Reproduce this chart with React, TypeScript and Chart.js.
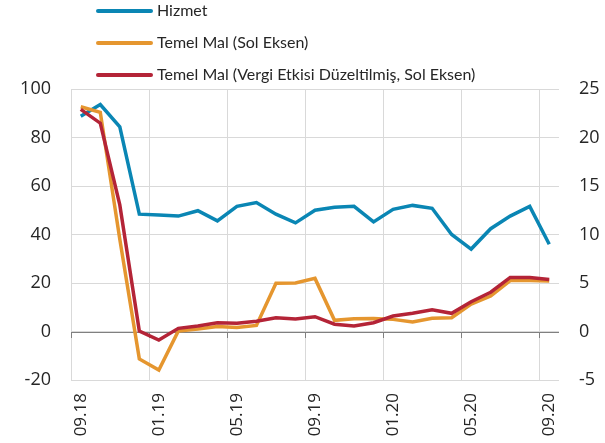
import React, { useEffect, useRef } from "react";
import { Chart, registerables } from "chart.js";

Chart.register(...registerables);

const categories = [
  "09.18", "10.18", "11.18", "12.18", "01.19", "02.19", "03.19", "04.19", "05.19",
  "06.19", "07.19", "08.19", "09.19", "10.19", "11.19", "12.19", "01.20", "02.20",
  "03.20", "04.20", "05.20", "06.20", "07.20", "08.20", "09.20",
];

// Right axis
const hizmet = [
  22.2, 23.4, 21.1, 12.1, 12.0, 11.9, 12.45, 11.4, 12.9, 13.3, 12.1, 11.2, 12.5,
  12.8, 12.9, 11.3, 12.6, 13.0, 12.7, 10.0, 8.5, 10.6, 11.9, 12.9, 9.0,
];

// Left axis
const temelMal = [
  92.7, 90.4, 38, -11.3, -15.9, 0.2, 1.0, 2.1, 1.7, 2.5, 19.9, 20.0, 21.9, 4.6,
  5.3, 5.4, 5.0, 3.9, 5.5, 5.7, 11.3, 14.6, 21.0, 21.0, 20.8,
];

const temelMalVergi = [
  91.6, 85.9, 52.2, 0.2, -3.5, 1.3, 2.3, 3.6, 3.4, 4.2, 5.7, 5.2, 6.1, 3.0, 2.3,
  3.6, 6.4, 7.5, 9.0, 7.5, 12.3, 16.2, 22.3, 22.3, 21.4,
];

const leftTicks = { min: -20, max: 100, step: 20 };
const rightTicks = { min: -5, max: 25, step: 5 };

const FONT = "'Open Sans', sans-serif";
const LEGEND_FONT = "Lato, sans-serif";
const TEXT = "#262626";

const zeroLinePlugin = {
  id: "zeroLine",
  beforeDatasetsDraw(chart: any) {
    const { ctx, chartArea } = chart;
    const y = chart.scales.y.getPixelForValue(0);
    const xs = chart.scales.x;
    const n = xs.ticks.length;
    const w = (chartArea.right - chartArea.left) / n;
    ctx.save();
    ctx.strokeStyle = "#808080";
    ctx.lineWidth = 1;
    ctx.beginPath();
    ctx.moveTo(chartArea.left, Math.round(y) + 0.5);
    ctx.lineTo(chartArea.right, Math.round(y) + 0.5);
    for (let i = 0; i < n; i += 4) {
      const x = Math.round(chartArea.left + i * w) + 0.5;
      ctx.moveTo(x, Math.round(y));
      ctx.lineTo(x, Math.round(y) + 6);
    }
    ctx.stroke();
    ctx.restore();
  },
};

const legendPlugin = {
  id: "customLegend",
  afterDraw(chart: any) {
    const { ctx } = chart;
    ctx.save();
    ctx.font = `16px ${LEGEND_FONT}`;
    ctx.textBaseline = "middle";
    ctx.textAlign = "left";
    const rows = [11, 43, 75];
    chart.data.datasets.forEach((ds: any, i: number) => {
      const y = rows[i];
      ctx.strokeStyle = ds.borderColor;
      ctx.lineWidth = 4;
      ctx.lineCap = "round";
      ctx.beginPath();
      ctx.moveTo(98, y);
      ctx.lineTo(151, y);
      ctx.stroke();
      ctx.fillStyle = TEXT;
      ctx.fillText(ds.label, 157, y);
    });
    ctx.restore();
  },
};

export default function App() {
  const ref = useRef<HTMLCanvasElement>(null);
  useEffect(() => {
    const canvas = ref.current;
    if (!canvas) return;
    const chart = new Chart(canvas, {
      type: "line",
      data: {
        labels: categories,
        datasets: [
          {
            label: "Hizmet",
            data: hizmet,
            yAxisID: "y1",
            borderColor: "#0A86B4",
            backgroundColor: "#0A86B4",
            borderWidth: 3.5,
            pointRadius: 0,
            tension: 0,
            order: 2,
          },
          {
            label: "Temel Mal (Sol Eksen)",
            data: temelMal,
            yAxisID: "y",
            borderColor: "#E5962F",
            backgroundColor: "#E5962F",
            borderWidth: 3.5,
            pointRadius: 0,
            tension: 0,
            order: 1,
          },
          {
            label: "Temel Mal (Vergi Etkisi Düzeltilmiş, Sol Eksen)",
            data: temelMalVergi,
            yAxisID: "y",
            borderColor: "#B42437",
            backgroundColor: "#B42437",
            borderWidth: 3.5,
            pointRadius: 0,
            tension: 0,
            order: 0,
          },
        ],
      },
      options: {
        animation: false,
        responsive: false,
        maintainAspectRatio: false,
        layout: { padding: { top: 89, left: 0, right: 0, bottom: 0 } },
        plugins: {
          legend: { display: false },
          tooltip: { enabled: false },
        },
        scales: {
          x: {
            type: "category",
            offset: true,
            grid: {
              offset: true,
              drawTicks: false,
              color: (c: any) => (c.index % 4 === 0 ? "#D9D9D9" : "rgba(0,0,0,0)"),
              lineWidth: 1,
            },
            border: { display: false },
            ticks: {
              autoSkip: false,
              maxRotation: 90,
              minRotation: 90,
              padding: 13,
              color: TEXT,
              font: { family: FONT, size: 17 },
              callback: (_v: any, i: number) => (i % 4 === 0 ? categories[i] : ""),
            },
            afterFit: (s: any) => {
              s.height = 63;
            },
          },
          y: {
            type: "linear",
            position: "left",
            min: leftTicks.min,
            max: leftTicks.max,
            ticks: {
              stepSize: leftTicks.step,
              padding: 20,
              color: TEXT,
              font: { family: FONT, size: 18 },
            },
            grid: { color: "#D9D9D9", drawTicks: false, lineWidth: 1 },
            border: { display: false },
            afterFit: (s: any) => {
              s.width = 71;
            },
          },
          y1: {
            type: "linear",
            position: "right",
            min: rightTicks.min,
            max: rightTicks.max,
            ticks: {
              stepSize: rightTicks.step,
              padding: 20,
              color: TEXT,
              font: { family: FONT, size: 18 },
            },
            grid: { display: false, drawTicks: false },
            border: { display: false },
            afterFit: (s: any) => {
              s.width = 46;
            },
          },
        },
      },
      plugins: [zeroLinePlugin, legendPlugin],
    });
    return () => chart.destroy();
  }, []);
  return (
    <div style={{ position: "fixed", left: 0, top: 0, width: 605, height: 443, background: "#fff" }}>
      <canvas ref={ref} width={605} height={443} style={{ width: 605, height: 443, display: "block" }} />
    </div>
  );
}
